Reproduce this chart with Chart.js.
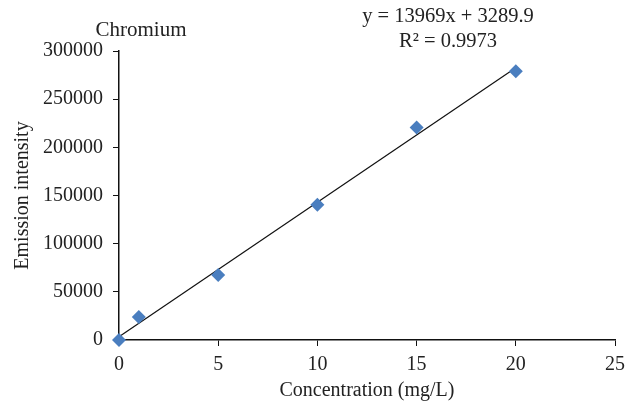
<!DOCTYPE html>
<html>
<head>
<meta charset="utf-8">
<script src="https://cdn.jsdelivr.net/npm/chart.js@4/dist/chart.umd.min.js"></script>
<style>
html,body{margin:0;padding:0;background:#fff;}
#wrap{width:628px;height:404px;position:relative;}
</style>
</head>
<body>
<div id="wrap"><canvas id="c" width="628" height="404"></canvas></div>
<script>
const concentrations = [0, 1, 5, 10, 15, 20];
const intensities = [0, 24000, 67400, 140500, 220500, 279000];
const trendX = [0, 20];
const trendY = [3289.9, 282669.9];
const xTicks = [0, 5, 10, 15, 20, 25];
const yTicks = [0, 50000, 100000, 150000, 200000, 250000, 300000];
const chartTitle = 'Chromium';
const equationLines = ['y = 13969x + 3289.9', 'R² = 0.9973'];

const FONT = "'Liberation Serif', 'Times New Roman', serif";

const textPlugin = {
  id: 'texts',
  afterDraw(chart) {
    const ctx = chart.ctx;
    ctx.save();
    ctx.fillStyle = '#222';
    ctx.textBaseline = 'middle';
    ctx.textAlign = 'center';
    ctx.font = '21px ' + FONT;
    ctx.fillText(chartTitle, 141, 30);
    ctx.font = '20.5px ' + FONT;
    ctx.fillText(equationLines[0], 448, 17);
    ctx.fillText(equationLines[1], 448, 42);
    ctx.restore();
  }
};

new Chart(document.getElementById('c'), {
  type: 'scatter',
  data: {
    datasets: [
      {
        label: 'Trend',
        type: 'line',
        data: trendX.map((x, i) => ({x, y: trendY[i]})),
        borderColor: '#111',
        borderWidth: 1.2,
        pointRadius: 0,
        fill: false,
        clip: false,
        order: 2
      },
      {
        label: 'Chromium',
        data: concentrations.map((x, i) => ({x, y: intensities[i]})),
        pointStyle: 'rectRot',
        pointRadius: 7,
        backgroundColor: '#4a7ebf',
        borderColor: '#4a7ebf',
        borderWidth: 0,
        clip: false,
        order: 1
      }
    ]
  },
  options: {
    responsive: false,
    animation: false,
    devicePixelRatio: 1,
    layout: { padding: { left: 0, right: 13, top: 51, bottom: 0 } },
    plugins: { legend: { display: false }, tooltip: { enabled: false } },
    scales: {
      x: {
        type: 'linear',
        min: 0, max: 25,
        afterBuildTicks: s => { s.ticks = xTicks.map(v => ({value: v})); },
        afterFit: s => { s.height = 64; },
        ticks: { color: '#222', font: { family: FONT, size: 20, lineHeight: 1.6 }, padding: 3 },
        grid: { drawOnChartArea: false, drawTicks: true, tickLength: 6, color: '#111', lineWidth: 1 },
        border: { display: true, color: '#111', width: 1.5 },
        title: { display: true, text: 'Concentration (mg/L)', color: '#222', font: { family: FONT, size: 20 }, padding: { top: 0, bottom: 1 } }
      },
      y: {
        type: 'linear',
        min: 0, max: 300000,
        afterBuildTicks: s => { s.ticks = yTicks.map(v => ({value: v})); },
        afterFit: s => { s.width = 119; },
        ticks: { color: '#222', font: { family: FONT, size: 20 }, padding: 10, callback: v => String(v) },
        grid: { drawOnChartArea: false, drawTicks: true, tickLength: 6, color: '#111', lineWidth: 1 },
        border: { display: true, color: '#111', width: 1.5 },
        title: { display: true, text: 'Emission intensity', color: '#222', font: { family: FONT, size: 20 }, padding: { top: 11, bottom: 0 } }
      }
    }
  },
  plugins: [textPlugin]
});
</script>
</body>
</html>
